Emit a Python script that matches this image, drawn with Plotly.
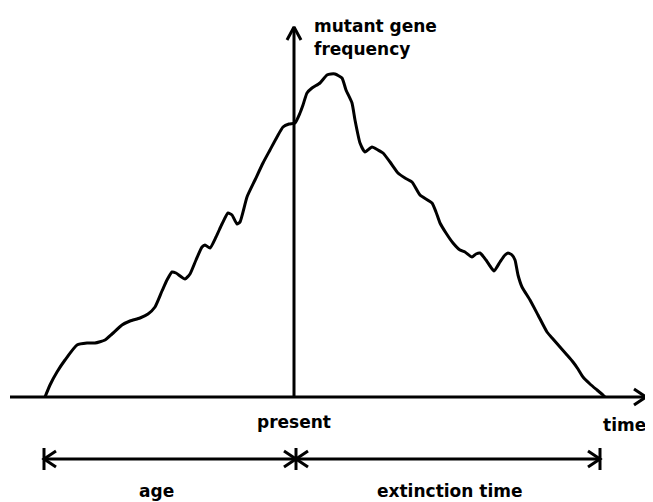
import plotly.graph_objects as go

# Data: time relative to present (0), mutant gene frequency (arbitrary units)
time = [-249, -244, -237, -229, -217, -207, -199, -189, -182, -172, -164, -154, -146, -139,
        -132, -127, -122, -118, -109, -104, -98, -92, -89, -84, -78, -72, -66, -62, -57, -54,
        -47, -39, -31, -24, -17, -11, -5, 1, 6, 9, 13, 18, 26, 33, 37, 41, 48, 52, 58, 61,
        66, 71, 78, 84, 89, 96, 104, 111, 118, 126, 138, 142, 146, 152, 159, 166, 171, 178,
        182, 186, 192, 196, 200, 206, 211, 214, 218, 221, 224, 228, 236, 244, 253, 259, 266,
        273, 279, 284, 289, 296, 303, 309, 311]
frequency = [0, 12, 25, 37, 52, 54, 54, 57, 63, 72, 76, 79, 83, 90,
             106, 117, 125, 124, 118, 123, 137, 150, 152, 149, 160, 173, 184, 182, 173, 175,
             200, 217, 234, 247, 260, 270, 273, 274, 284, 292, 304, 309, 314, 322, 323, 323, 319, 307, 294, 277,
             254, 245, 250, 247, 244, 235, 224, 219, 215, 202, 194, 185, 174, 164, 154, 147, 145, 140,
             143, 144, 137, 131, 126, 135, 142, 144, 142, 137, 122, 110, 97, 82, 65, 58, 50,
             42, 35, 28, 20, 13, 7, 2, 0]

birth = -250
present = 0
extinction = 312

labels = {"y": ["mutant gene", "frequency"], "x": "time", "now": "present",
          "age": "age", "ext": "extinction time"}

BLACK = "#000000"
FONT = dict(family="DejaVu Sans", size=17, color=BLACK, weight="bold")

fig = go.Figure()

# Main curve
fig.add_trace(go.Scatter(x=time, y=frequency, mode="lines",
                         line=dict(color=BLACK, width=3, shape="spline", smoothing=0.5),
                         hoverinfo="skip"))

# Axes as lines
x_axis_start, x_axis_end = -284, 352
y_axis_top = 370
fig.add_shape(type="line", x0=x_axis_start, x1=x_axis_end, y0=0, y1=0,
              line=dict(color=BLACK, width=3))
fig.add_shape(type="line", x0=present, x1=present, y0=0, y1=y_axis_top,
              line=dict(color=BLACK, width=3))


def chevron(tipx, tipy, dx, dy, length, half):
    # dx, dy unit direction of arrow
    bx, by = tipx - dx * length, tipy - dy * length
    px_, py_ = -dy, dx
    xs = [bx + px_ * half, tipx, bx - px_ * half]
    ys = [by + py_ * half, tipy, by - py_ * half]
    fig.add_trace(go.Scatter(x=xs, y=ys, mode="lines",
                             line=dict(color=BLACK, width=3), hoverinfo="skip"))


chevron(x_axis_end, 0, 1, 0, 12, 8)
chevron(present, y_axis_top, 0, 1, 13, 7)

# Interval arrows
arr_y = -62
bar_h = 11
for bx in [birth, present + 2, extinction - 6]:
    fig.add_shape(type="line", x0=bx, x1=bx, y0=arr_y - bar_h, y1=arr_y + bar_h,
                  line=dict(color=BLACK, width=3))
fig.add_shape(type="line", x0=birth, x1=extinction - 6, y0=arr_y, y1=arr_y,
              line=dict(color=BLACK, width=3))
chevron(birth, arr_y, -1, 0, 12, 8)
chevron(present + 2, arr_y, 1, 0, 12, 8)
chevron(present + 2, arr_y, -1, 0, 12, 8)
chevron(extinction - 6, arr_y, 1, 0, 12, 8)

# Texts
fig.add_annotation(x=18, y=371, text=labels["y"][0], showarrow=False, xanchor="left",
                   yanchor="middle", font=FONT)
fig.add_annotation(x=18, y=348, text=labels["y"][1], showarrow=False, xanchor="left",
                   yanchor="middle", font=FONT)
fig.add_annotation(x=present, y=-25, text=labels["now"], showarrow=False, font=FONT)
fig.add_annotation(x=354, y=-28, text=labels["x"], showarrow=False, xanchor="right", font=FONT)
fig.add_annotation(x=-138, y=-94, text=labels["age"], showarrow=False, font=FONT)
fig.add_annotation(x=155, y=-94, text=labels["ext"], showarrow=False, font=FONT)

# The page body has an 8px margin, so the figure is drawn 8px smaller and
# its ranges are shifted to keep the drawing aligned with the window.
fig.update_layout(
    width=645, height=494,
    margin=dict(l=0, r=0, t=0, b=0),
    paper_bgcolor="white", plot_bgcolor="white",
    showlegend=False,
    xaxis=dict(range=[-286, 359], visible=False, fixedrange=True),
    yaxis=dict(range=[-105, 389], visible=False, fixedrange=True),
)

fig.write_html("out.html")
